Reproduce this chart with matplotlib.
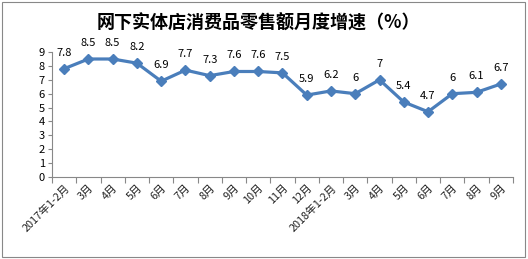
import matplotlib
matplotlib.use("Agg")
import matplotlib.pyplot as plt
from matplotlib.patches import Rectangle

plt.rcParams['font.family'] = ['Noto Sans CJK SC', 'DejaVu Sans']

# 数据
meses = ['2017年1-2月', '3月', '4月', '5月', '6月', '7月', '8月', '9月', '10月', '11月', '12月',
         '2018年1-2月', '3月', '4月', '5月', '6月', '7月', '8月', '9月']
valores = [7.8, 8.5, 8.5, 8.2, 6.9, 7.7, 7.3, 7.6, 7.6, 7.5, 5.9,
           6.2, 6, 7, 5.4, 4.7, 6, 6.1, 6.7]
rotulos = ['7.8', '8.5', '8.5', '8.2', '6.9', '7.7', '7.3', '7.6', '7.6', '7.5', '5.9',
           '6.2', '6', '7', '5.4', '4.7', '6', '6.1', '6.7']

cor = '#4a7ebb'

fig = plt.figure(figsize=(5.28, 2.59), dpi=100)
ax = fig.add_axes([0.0985, 0.3166, 0.873, 0.4824])

x = list(range(len(valores)))
ax.plot(x, valores, color=cor, linewidth=2.3, marker='D', markersize=5.5)

for xi, v, r in zip(x, valores, rotulos):
    ax.annotate(r, (xi, v), xytext=(0, 8), textcoords='offset points',
                ha='center', va='bottom', fontsize=8, color='black')

ax.set_xlim(-0.5, len(valores) - 0.5)
ax.set_ylim(0, 9)
ax.set_yticks(range(0, 10))
ax.tick_params(axis='y', labelsize=8, length=3, color='#888888', pad=2)

# ticks entre as categorias, rótulos no centro
ax.set_xticks([i - 0.5 for i in range(len(valores) + 1)])
ax.set_xticklabels([])
ax.set_xticks(x, minor=True)
ax.set_xticklabels(meses, minor=True, rotation=45, ha='right', va='top',
                   rotation_mode='anchor', fontsize=7.8, color='#222222')
ax.tick_params(axis='x', which='major', length=4, color='#888888')
ax.tick_params(axis='x', which='minor', length=0, pad=4)

for s in ['top', 'right']:
    ax.spines[s].set_visible(False)
ax.spines['left'].set_color('#888888')
ax.spines['bottom'].set_color('#888888')

fig.text(0.49, 0.91, '网下实体店消费品零售额月度增速（%）', ha='center', va='center',
         fontsize=13, fontweight='bold')

# moldura
fig.patches.append(Rectangle((0.004, 0.006), 0.99, 0.985, transform=fig.transFigure,
                             fill=False, edgecolor='#888888', linewidth=0.8))

fig.savefig('out.png', dpi=100)
